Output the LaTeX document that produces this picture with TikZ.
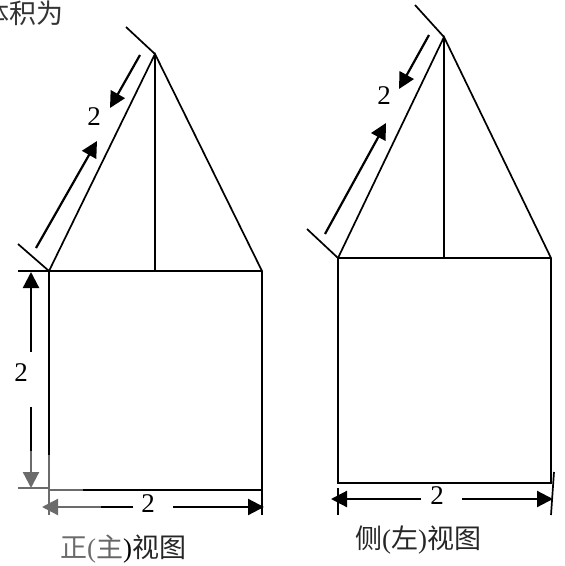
\documentclass[tikz,border=0pt]{standalone}
\usepackage{fontspec}
\setmainfont{Liberation Serif}
\newfontfamily\cjk{Noto Sans CJK SC}
\usetikzlibrary{arrows.meta}
\definecolor{fadegray}{gray}{0.42}
\tikzset{
    edge/.style={line width=1.7pt},
    dim/.style={line width=2.2pt,-{Triangle[length=16pt,width=16pt]}},
    lbl/.style={inner sep=0pt,font=\fontsize{27}{30}\selectfont},
}
\begin{document}
\begin{tikzpicture}[x=1pt,y=-1pt]
    \useasboundingbox (0,0) rectangle (565,566);
    \node[lbl,anchor=east,text=black!80] (title) at (64,13) {\cjk 体积为};
    % front view
    \coordinate (fa) at (49,271);
    \coordinate (fb) at (262,271);
    \coordinate (fc) at (262,490);
    \coordinate (fd) at (49,490);
    \coordinate (ft) at (155,54);
    \coordinate (ff) at (155,271);
    \draw[edge] (fa)--(ft)--(fb)--(fc)--(fd)--cycle;
    \draw[edge] (fa)--(fb);
    \draw[edge] (ft)--(ff);
    \coordinate (ftick1) at (126,27);
    \coordinate (ftick2) at (18,244);
    \coordinate (ftick3) at (18,271);
    \coordinate (ftick4) at (18,488);
    \coordinate (ftick5) at (49,488);
    \coordinate (ftick6) at (49,515);
    \coordinate (ftick7) at (262,515);
    \draw[edge] (ft)--(ftick1);
    \draw[edge] (fa)--(ftick2);
    \draw[edge] (fa)--(ftick3);
    \draw[edge] (fc)--(ftick7);
    \draw[dim] (140,55)--(110,108);
    \draw[dim] (36,248)--(97,141);
    \node[lbl] (fslant) at (94,117) {2};
    \draw[dim] (31,352)--(31,272);
    \draw[dim,fadegray] (31,407)--(31,488);
    \draw[line width=2.2pt] (31,407)--(31,451);
    \node[lbl] (fheight) at (21,373) {2};
    \draw[dim,fadegray] (133,507)--(42,507);
    \draw[line width=2.2pt] (133,507)--(101,507);
    \draw[dim] (173,507)--(264,507);
    \node[lbl] (fwidth) at (148,504) {2};
    % faded corner of the front view
    \draw[edge,fadegray] (ftick4)--(ftick5);
    \draw[edge,fadegray] (49,455)--(ftick6);
    \draw[edge,fadegray] (fd)--(83,490);
    \node[lbl,anchor=west] (fcap) at (60,549) {\textcolor{fadegray}{{\cjk 正}(}\textcolor{black!60}{{\cjk 主}})\textcolor{black!85}{{\cjk 视图}}};
    % side view
    \coordinate (sa) at (338,258);
    \coordinate (sb) at (551,258);
    \coordinate (sc) at (551,483);
    \coordinate (sd) at (338,483);
    \coordinate (st) at (444,37);
    \coordinate (sf) at (444,258);
    \draw[edge] (sa)--(st)--(sb)--(sc)--(sd)--cycle;
    \draw[edge] (sa)--(sb);
    \draw[edge] (st)--(sf);
    \coordinate (stick1) at (415,5);
    \coordinate (stick2) at (307,229);
    \coordinate (stick3) at (338,488);
    \coordinate (stick4) at (338,515);
    \coordinate (stick5) at (554,472);
    \coordinate (stick6) at (551,515);
    \draw[edge] (st)--(stick1);
    \draw[edge] (sa)--(stick2);
    \draw[edge] (stick3)--(stick4);
    \draw[edge] (stick5)--(stick6);
    \draw[dim] (429,35)--(399,89);
    \draw[dim] (325,234)--(386,123);
    \node[lbl] (sslant) at (384,96) {2};
    \draw[dim] (421,499)--(331,499);
    \draw[dim] (462,499)--(553,499);
    \node[lbl] (swidth) at (437,496) {2};
    \node[lbl,anchor=west,text=black!85] (scap) at (355,540) {{\cjk 侧}({\cjk 左}){\cjk 视图}};
\end{tikzpicture}
\end{document}
